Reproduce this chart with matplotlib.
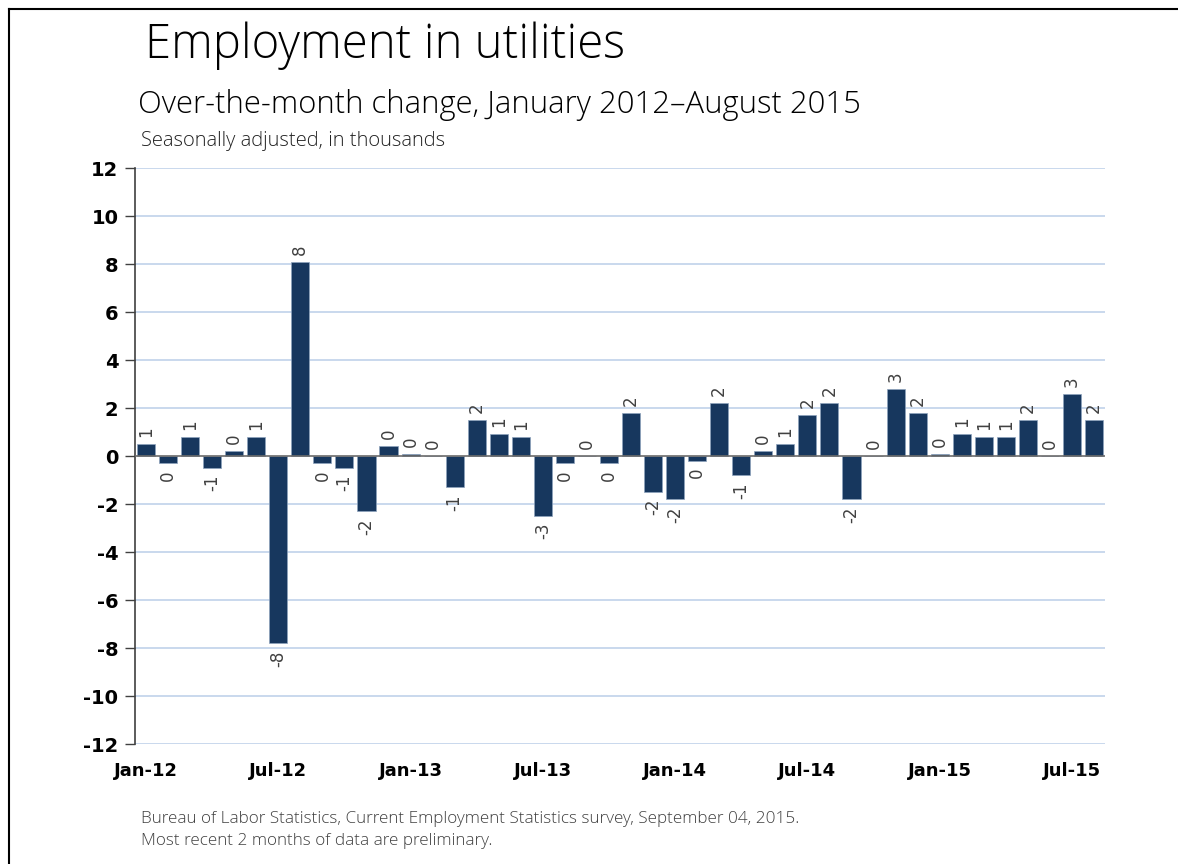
import numpy as np
import matplotlib
matplotlib.use("Agg")
import matplotlib.pyplot as plt
from matplotlib.lines import Line2D

months = [
    "Jan-12", "Feb-12", "Mar-12", "Apr-12", "May-12", "Jun-12", "Jul-12", "Aug-12",
    "Sep-12", "Oct-12", "Nov-12", "Dec-12", "Jan-13", "Feb-13", "Mar-13", "Apr-13",
    "May-13", "Jun-13", "Jul-13", "Aug-13", "Sep-13", "Oct-13", "Nov-13", "Dec-13",
    "Jan-14", "Feb-14", "Mar-14", "Apr-14", "May-14", "Jun-14", "Jul-14", "Aug-14",
    "Sep-14", "Oct-14", "Nov-14", "Dec-14", "Jan-15", "Feb-15", "Mar-15", "Apr-15",
    "May-15", "Jun-15", "Jul-15", "Aug-15",
]
change = [
    0.5, -0.3, 0.8, -0.5, 0.2, 0.8, -7.8, 8.1,
    -0.3, -0.5, -2.3, 0.4, 0.1, 0.0, -1.3, 1.5,
    0.9, 0.8, -2.5, -0.3, 0.0, -0.3, 1.8, -1.5,
    -1.8, -0.2, 2.2, -0.8, 0.2, 0.5, 1.7, 2.2,
    -1.8, 0.0, 2.8, 1.8, 0.1, 0.9, 0.8, 0.8,
    1.5, 0.0, 2.6, 1.5,
]
yticks = list(range(-12, 13, 2))

BAR = "#17375e"
GRID = "#c5d6ec"
TXT = "#404040"

fig = plt.figure(figsize=(11.78, 8.64), dpi=100)
ax = fig.add_axes([135 / 1178, 1 - 744 / 864, 970 / 1178, 576 / 864])

x = np.arange(len(months))
vals = np.array(change)
ax.bar(x, vals, width=0.82, color=BAR, edgecolor="#8ea3bd", linewidth=0.5, zorder=3)

# rounded data labels, half away from zero
for xi, v in zip(x, vals):
    r = int(np.sign(v) * np.floor(abs(v) + 0.5))
    lab = str(r) if r != 0 else "0"
    if v >= 0:
        ax.annotate(lab, (xi, v), xytext=(0, 5), textcoords="offset points",
                    rotation=90, ha="center", va="bottom", fontsize=12, color=TXT)
    else:
        ax.annotate(lab, (xi, v), xytext=(0, -5), textcoords="offset points",
                    rotation=90, ha="center", va="top", fontsize=12, color=TXT)

ax.set_xlim(-0.5, len(months) - 0.5)
ax.set_ylim(-12, 12)
ax.set_yticks(yticks)
ax.set_yticklabels([str(t) for t in yticks], fontsize=14, fontweight="bold",
                   family="DejaVu Sans")
ax.set_xticks(x[::6])
ax.set_xticklabels(months[::6], fontsize=13, fontweight="bold", family="DejaVu Sans")
ax.tick_params(axis="x", length=0, pad=13)
ax.tick_params(axis="y", length=7, width=1, color="#404040", pad=5)

for t in yticks:
    if t != 0:
        ax.axhline(t, color=GRID, linewidth=1.3, zorder=1)
ax.axhline(0, color="#6b6b6b", linewidth=1.2, zorder=4)

for s in ["top", "right", "bottom"]:
    ax.spines[s].set_visible(False)
ax.spines["left"].set_color("#404040")
ax.spines["left"].set_linewidth(1.2)

font = ["Open Sans", "DejaVu Sans"]
fig.text(145 / 1178, 1 - 46 / 864, "Employment in utilities", fontsize=34,
         family=font, weight="light", va="center", ha="left", color="black")
fig.text(138 / 1178, 1 - 105 / 864, "Over-the-month change, January 2012\u2013August 2015",
         fontsize=22.3, family=font, weight="light", va="center", ha="left", color="black")
fig.text(141 / 1178, 1 - 141 / 864, "Seasonally adjusted, in thousands",
         fontsize=14.5, family=font, weight="light", va="center", ha="left", color="#222222")
fig.text(141 / 1178, 1 - 819 / 864,
         "Bureau of Labor Statistics, Current Employment Statistics survey, September 04, 2015.",
         fontsize=12.3, family=font, weight="light", va="center", ha="left", color=TXT)
fig.text(141 / 1178, 1 - 841 / 864, "Most recent 2 months of data are preliminary.",
         fontsize=12.3, family=font, weight="light", va="center", ha="left", color=TXT)

# outer frame (top and left)
fig.add_artist(Line2D([9 / 1178, 1], [1 - 9 / 864, 1 - 9 / 864], color="black", linewidth=1.5))
fig.add_artist(Line2D([9 / 1178, 9 / 1178], [0, 1 - 9 / 864], color="black", linewidth=1.5))

fig.savefig("out.png", dpi=100)
